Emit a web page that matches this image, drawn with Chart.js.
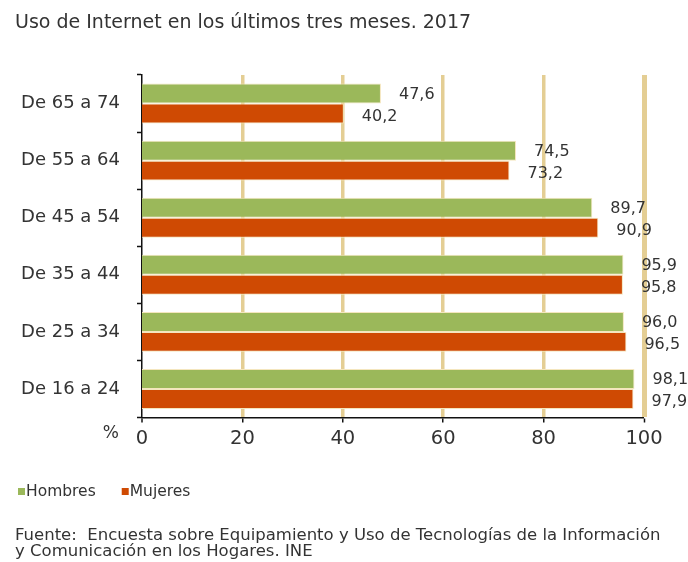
<!DOCTYPE html>
<html lang="es">
<head>
<meta charset="utf-8">
<title>Uso de Internet en los últimos tres meses. 2017</title>
<script src="https://cdn.jsdelivr.net/npm/chart.js@4.4.1/dist/chart.umd.min.js"></script>
<style>
  html, body { margin: 0; padding: 0; background: #ffffff; }
  #wrap { width: 688px; height: 562px; }
</style>
</head>
<body>
<div id="wrap"><canvas id="chart" width="688" height="562"></canvas></div>
<script>
// ---- datos ----
const grupos = ['De 65 a 74', 'De 55 a 64', 'De 45 a 54', 'De 35 a 44', 'De 25 a 34', 'De 16 a 24'];
const hombres = [47.6, 74.5, 89.7, 95.9, 96.0, 98.1];
const mujeres = [40.2, 73.2, 90.9, 95.8, 96.5, 97.9];
const ticksX = [0, 20, 40, 60, 80, 100];

const titulo = 'Uso de Internet en los últimos tres meses. 2017';
const fuente = [
  'Fuente:  Encuesta sobre Equipamiento y Uso de Tecnologías de la Información',
  'y Comunicación en los Hogares. INE'
];

// ---- estilo ----
const FONT = "'DejaVu Sans', 'Liberation Sans', Arial, sans-serif";
const colores = {
  verde: '#9BB85A',
  naranja: '#CF4A03',
  rejilla: '#E4CE94',
  borde: '#F4E6BE',
  texto: '#333333',
  eje: '#111111'
};

const fmt = (v) => v.toFixed(1).replace('.', ',');

// etiquetas de valor a la derecha de cada barra
const etiquetasValor = {
  id: 'etiquetasValor',
  afterDatasetsDraw(chart) {
    const ctx = chart.ctx;
    ctx.save();
    ctx.font = '16px ' + FONT;
    ctx.fillStyle = colores.texto;
    ctx.textAlign = 'left';
    ctx.textBaseline = 'middle';
    chart.data.datasets.forEach((ds, i) => {
      const meta = chart.getDatasetMeta(i);
      meta.data.forEach((bar, j) => {
        ctx.fillText(fmt(ds.data[j]), bar.x + 18, bar.y + (i === 0 ? 1 : 3));
      });
    });
    ctx.restore();
  }
};

// título, "%", leyenda y nota de fuente
const textos = {
  id: 'textos',
  afterDraw(chart) {
    const ctx = chart.ctx;
    const area = chart.chartArea;
    ctx.save();
    ctx.fillStyle = colores.texto;
    ctx.textBaseline = 'middle';

    ctx.textAlign = 'left';
    ctx.font = '19px ' + FONT;
    ctx.fillText(titulo, 15, 23);

    ctx.textAlign = 'right';
    ctx.font = '17px ' + FONT;
    ctx.fillText('%', 119, area.bottom + 16);

    // leyenda
    ctx.textAlign = 'left';
    ctx.font = '15.5px ' + FONT;
    let x = 18;
    chart.data.datasets.forEach((ds) => {
      ctx.fillStyle = ds.backgroundColor;
      ctx.fillRect(x, 488, 7, 7);
      ctx.fillStyle = colores.texto;
      ctx.fillText(ds.label, x + 8, 492);
      x += ctx.measureText(ds.label).width + 34;
    });

    ctx.font = '16.5px ' + FONT;
    fuente.forEach((linea, k) => ctx.fillText(linea, 15, 536 + k * 16));
    ctx.restore();
  }
};

new Chart(document.getElementById('chart'), {
  type: 'bar',
  data: {
    labels: grupos,
    datasets: [
      {
        label: 'Hombres',
        data: hombres,
        backgroundColor: colores.verde,
        borderColor: colores.borde,
        borderWidth: 1
      },
      {
        label: 'Mujeres',
        data: mujeres,
        backgroundColor: colores.naranja,
        borderColor: colores.borde,
        borderWidth: 1
      }
    ]
  },
  options: {
    indexAxis: 'y',
    responsive: false,
    animation: false,
    layout: { padding: { left: 0, right: 44, top: 75, bottom: 104.5 } },
    datasets: {
      bar: { categoryPercentage: 0.7, barPercentage: 1.0 }
    },
    plugins: {
      legend: { display: false },
      title: { display: false },
      tooltip: { enabled: false }
    },
    scales: {
      x: {
        min: 0,
        max: 100,
        afterFit: (s) => { s.height = 40; },
        afterBuildTicks: (s) => { s.ticks = ticksX.map((v) => ({ value: v })); },
        grid: {
          color: colores.rejilla,
          lineWidth: (c) => (c.tick && c.tick.value === 0 ? 0 : (c.tick && c.tick.value === 100 ? 5 : 3.5)),
          drawTicks: true,
          tickLength: 5,
          tickColor: colores.eje,
          tickWidth: 1.5
        },
        border: { display: true, color: colores.eje, width: 1.5 },
        ticks: {
          padding: 5,
          color: colores.texto,
          font: { family: FONT, size: 19.5 }
        }
      },
      y: {
        afterFit: (s) => { s.width = 142; },
        grid: {
          offset: true,
          drawOnChartArea: false,
          drawTicks: true,
          tickLength: 5,
          color: colores.eje,
          tickColor: colores.eje,
          tickWidth: 1.5
        },
        border: { display: true, color: colores.eje, width: 1.5 },
        ticks: {
          padding: 17,
          color: colores.texto,
          font: { family: FONT, size: 18 }
        }
      }
    }
  },
  plugins: [etiquetasValor, textos]
});
</script>
</body>
</html>
